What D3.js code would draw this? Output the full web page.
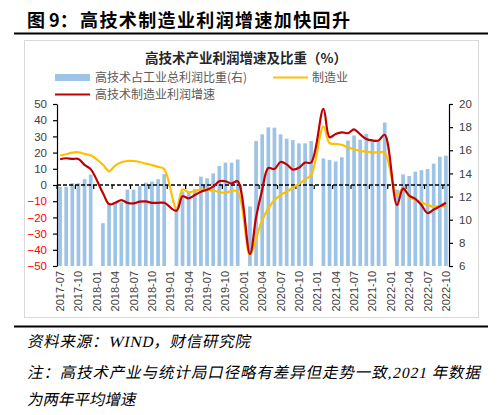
<!DOCTYPE html>
<html><head><meta charset="utf-8">
<script src="https://cdn.jsdelivr.net/npm/d3@7"></script>
<style>body{margin:0;background:#fff}svg{display:block}</style>
</head><body><svg id="c" width="500" height="415"></svg>
<script>
const categories = [
 "2017-07","2017-08","2017-09","2017-10","2017-11","2017-12",
 "2018-01","2018-02","2018-03","2018-04","2018-05","2018-06","2018-07","2018-08","2018-09","2018-10","2018-11","2018-12",
 "2019-01","2019-02","2019-03","2019-04","2019-05","2019-06","2019-07","2019-08","2019-09","2019-10","2019-11","2019-12",
 "2020-01","2020-02","2020-03","2020-04","2020-05","2020-06","2020-07","2020-08","2020-09","2020-10","2020-11","2020-12",
 "2021-01","2021-02","2021-03","2021-04","2021-05","2021-06","2021-07","2021-08","2021-09","2021-10","2021-11","2021-12",
 "2022-01","2022-02","2022-03","2022-04","2022-05","2022-06","2022-07","2022-08","2022-09","2022-10"];
// 高技术占工业总利润比重(右), %
const share = [
 12.85,12.85,13.15,13.15,13.5,13.9,
 null,9.7,11.4,11.5,11.5,12.6,12.6,12.9,13.2,13.3,13.5,13.95,
 null,11.0,12.45,12.45,12.65,13.72,13.58,14.0,14.64,14.93,14.93,15.2,
 null,11.15,16.8,17.38,17.98,17.95,17.38,17.0,16.88,16.6,16.6,16.8,
 null,15.3,15.17,15.03,15.4,16.84,17.28,16.92,17.42,16.85,16.78,18.4,
 null,12.6,13.92,13.78,14.15,14.28,14.38,14.85,15.45,15.54];
// 制造业, %
const mfg = [
 18.2,19.0,20.0,20.2,19.2,18.3,
 null,12.5,8.5,12.0,14.0,14.8,14.8,14.2,13.2,12.3,11.2,9.9,
 null,-14.5,-2.7,-4.5,-3.7,-2.9,-2.9,-3.5,-4.3,-4.8,-3.7,-4.0,
 null,-43.4,-33.0,-21.7,-14.4,-9.3,-6.2,-4.1,-1.6,0.6,3.5,6.2,
 null,36.1,25.8,25.4,24.8,23.3,22.1,21.0,20.6,20.2,20.2,20.0,
 null,-6.2,-2.1,-7.2,-9.3,-10.7,-12.4,-13.4,-13.0,-13.0];
// 高技术制造业利润增速, %
const hitech = [
 15.9,16.5,16.1,16.1,12.4,9.8,
 null,-5.0,-11.8,-11.0,-9.3,-11.0,-11.4,-10.3,-10.1,-11.0,-11.0,-11.0,
 null,-15.9,-7.0,-8.3,-6.2,-4.1,-2.9,-1.0,2.3,2.3,0.9,2.3,
 null,-42.6,-20.0,-3.0,10.5,9.9,14.2,12.7,9.5,10.6,13.8,13.9,
 null,47.0,29.5,31.5,32.5,32.0,34.3,31.2,28.4,27.5,27.5,31.0,
 null,-12.4,-2.2,-6.5,-8.5,-12.4,-17.3,-15.2,-13.2,-11.0];
const leftTicks = [50,40,30,20,10,0,-10,-20,-30,-40,-50];
const rightTicks = [20,18,16,14,12,10,8,6];
const xTickLabels = ["2017-07","2017-10","2018-01","2018-04","2018-07","2018-10","2019-01","2019-04","2019-07","2019-10",
 "2020-01","2020-04","2020-07","2020-10","2021-01","2021-04","2021-07","2021-10","2022-01","2022-04","2022-07","2022-10"].filter(d=>categories.includes(d));
const seriesNames = ["高技术占工业总利润比重(右)","制造业","高技术制造业利润增速"];

const svg = d3.select("#c");
const L = 57, R = 449, T = 104, B = 266;
const cjk = "'Noto Sans CJK SC','Noto Sans',sans-serif";
const num = "'Liberation Sans',Arial,sans-serif";
const barColor = "#9dc3e6", red = "#c00000", yellow = "#ffc000";

// header
svg.append("text").attr("x",27).attr("y",26.5).attr("font-family",cjk).attr("font-weight",700)
  .attr("font-size",18).attr("fill","#000").text("图 9：");
svg.append("text").attr("x",80).attr("y",26.5).attr("font-family",cjk).attr("font-weight",700)
  .attr("font-size",18).attr("fill","#000").attr("textLength",270).attr("lengthAdjust","spacing")
  .text("高技术制造业利润增速加快回升");
svg.append("line").attr("x1",14).attr("x2",488).attr("y1",33.5).attr("y2",33.5).attr("stroke","#000").attr("stroke-width",2);

// chart frame
svg.append("rect").attr("x",24.5).attr("y",40.5).attr("width",454).attr("height",277)
  .attr("fill","#fff").attr("stroke","#d9d9d9");
svg.append("text").attr("x",246).attr("y",62.5).attr("text-anchor","middle").attr("font-family",cjk)
  .attr("font-weight",700).attr("font-size",13.5).attr("fill","#262626").text("高技术产业利润增速及比重（%）");

// scales
const xBar = d3.scaleBand().domain(categories).range([L,R]).paddingInner(0.4).paddingOuter(0.2);
const xCat = d3.scaleBand().domain(categories).range([L,R]).padding(0);
const cx = c => xCat(c) + xCat.bandwidth()/2;
const yL = d3.scaleLinear().domain([-50,50]).range([B,T]);
const yR = d3.scaleLinear().domain([6,20]).range([B,T]);

// bars
svg.append("g").selectAll("rect").data(categories.map((c,i)=>({c,v:share[i]})).filter(d=>d.v!=null))
  .join("rect").attr("x",d=>xBar(d.c)).attr("width",xBar.bandwidth())
  .attr("y",d=>yR(d.v)).attr("height",d=>yR(6)-yR(d.v)).attr("fill",barColor);

// zero axis (dashed) with ticks
const y0 = yL(0);
svg.append("line").attr("x1",L).attr("x2",R).attr("y1",y0).attr("y2",y0)
  .attr("stroke","#000").attr("stroke-width",1.5).attr("stroke-dasharray","4,2");
svg.append("g").selectAll("line").data(xTickLabels).join("line")
  .attr("x1",d=>xCat(d)).attr("x2",d=>xCat(d)).attr("y1",y0).attr("y2",y0+4)
  .attr("stroke","#000").attr("stroke-width",1.2);

// left axis
const gl = svg.append("g").attr("transform",`translate(${L},0)`)
  .call(d3.axisLeft(yL).tickValues(leftTicks).tickSize(4).tickSizeOuter(0).tickPadding(6).tickFormat(d3.format("d")));
gl.select(".domain").attr("stroke","#000").attr("stroke-width",1.2);
gl.selectAll(".tick line").attr("stroke","#000").attr("stroke-width",1.2);
gl.selectAll(".tick text").attr("font-family",num).attr("font-size",11.5)
  .attr("fill",d=>d<0?"#ff0000":"#404040");

// right axis
const gr = svg.append("g").attr("transform",`translate(${R},0)`)
  .call(d3.axisRight(yR).tickValues(rightTicks).tickSize(4).tickSizeOuter(0).tickPadding(6).tickFormat(d3.format("d")));
gr.select(".domain").attr("stroke","#000").attr("stroke-width",1.2);
gr.selectAll(".tick line").attr("stroke","#000").attr("stroke-width",1.2);
gr.selectAll(".tick text").attr("font-family",num).attr("font-size",11.5).attr("fill","#404040");

// x labels
svg.append("g").selectAll("text").data(xTickLabels).join("text")
  .attr("transform",d=>`translate(${cx(d)},271) rotate(-90)`)
  .attr("text-anchor","end").attr("dominant-baseline","central")
  .attr("font-family",num).attr("font-size",11).attr("fill","#404040").text(d=>d);

// lines
const mkLine = () => d3.line().x(d=>cx(d.c)).y(d=>yL(d.v)).curve(d3.curveCatmullRom.alpha(0.5));
const pts = arr => categories.map((c,i)=>({c,v:arr[i]})).filter(d=>d.v!=null);
svg.append("path").datum(pts(mfg)).attr("d",mkLine()).attr("fill","none").attr("stroke",yellow).attr("stroke-width",2.2);
svg.append("path").datum(pts(hitech)).attr("d",mkLine()).attr("fill","none").attr("stroke",red).attr("stroke-width",2.2);

// legend
const lg = svg.append("g").attr("font-family",cjk).attr("font-size",12).attr("fill","#595959");
lg.append("rect").attr("x",55).attr("y",74).attr("width",35).attr("height",7).attr("fill",barColor);
lg.append("text").attr("x",95).attr("y",81.8).text(seriesNames[0]);
lg.append("line").attr("x1",273).attr("x2",308).attr("y1",77.5).attr("y2",77.5).attr("stroke",yellow).attr("stroke-width",2.2);
lg.append("text").attr("x",312).attr("y",81.8).text(seriesNames[1]);
lg.append("line").attr("x1",55).attr("x2",90).attr("y1",94.5).attr("y2",94.5).attr("stroke",red).attr("stroke-width",2.2);
lg.append("text").attr("x",95).attr("y",98.8).text(seriesNames[2]);

// footnotes (slanted like the reference's italic)
svg.append("line").attr("x1",14).attr("x2",488).attr("y1",326.5).attr("y2",326.5).attr("stroke","#000").attr("stroke-width",2);
const fn = "'Liberation Serif','Noto Sans CJK SC',serif";
const foot = (txt, y, len) => {
  const t = svg.append("text").attr("transform",`translate(27,${y}) skewX(-12)`)
    .attr("font-family",fn).attr("font-size",15.5).attr("fill","#000").text(txt);
  if (len) t.attr("textLength",len).attr("lengthAdjust","spacing");
};
foot("资料来源：WIND，财信研究院", 346.5, 223);
foot("注：高技术产业与统计局口径略有差异但走势一致,2021 年数据", 377.5, 453);
foot("为两年平均增速", 404.5, 0);
</script></body></html>
